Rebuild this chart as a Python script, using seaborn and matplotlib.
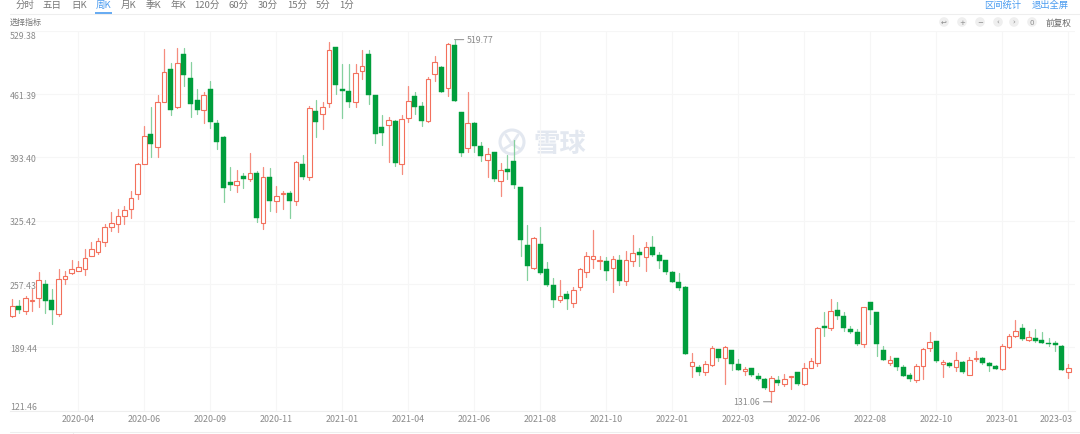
import numpy as np
import pandas as pd
import matplotlib
matplotlib.use("Agg")
import matplotlib.pyplot as plt
from matplotlib.patches import Circle
from matplotlib.transforms import ScaledTranslation
import seaborn as sns

# weekly candles, one row of four lists per quantity
opens = [223.4,234.1,228.8,239.2,242.1,257.5,240.3,225.3,262.8,268.9,271.7,273.6,287.8,291.5,302.9,319.0,321.9,330.1,338.3,354.1,
386.3,418.5,404.8,453.1,488.3,447.1,504.4,478.3,455.3,443.9,466.8,430.3,414.9,367.3,364.0,373.1,369.8,376.6,323.3,372.0,
346.2,354.4,354.8,346.9,386.3,372.7,443.5,440.3,451.4,511.6,466.8,465.0,453.1,486.4,504.4,460.7,425.7,428.1,432.8,386.3,
435.3,459.6,448.2,432.1,482.9,490.1,467.5,514.3,441.8,403.4,430.3,405.3,390.6,399.5,367.7,380.6,389.8,361.9,299.3,275.0,
300.7,273.6,256.4,240.3,246.4,236.7,253.9,270.7,284.6,281.8,282.1,275.0,282.9,261.0,281.8,291.5,286.8,297.2,288.9,282.9,
270.3,259.3,254.6,169.8,168.7,162.7,170.5,187.4,178.0,186.6,171.5,163.7,166.9,159.0,155.8,142.9,154.4,150.4,157.3,162.7,
149.8,167.6,172.3,212.4,209.9,229.9,222.8,209.1,206.3,193.0,237.8,227.1,186.6,173.0,177.7,168.3,159.7,154.1,169.1,189.1,
196.0,171.2,172.7,168.7,174.0,160.1,176.6,178.0,172.7,169.8,165.9,189.8,201.3,210.2,197.0,199.2,197.0,194.4,193.8,190.6,163.0]
highs = [241.4,240.6,244.3,252.1,270.0,261.7,252.1,273.6,271.7,283.2,282.5,295.0,302.9,306.8,321.9,334.4,338.0,341.5,357.6,387.0,
427.4,447.1,460.3,509.7,494.7,510.8,510.8,495.4,466.8,463.2,475.7,433.8,416.0,382.7,380.2,376.6,397.8,378.4,383.4,382.0,
362.3,357.6,357.0,389.2,396.3,448.2,455.0,452.5,517.6,512.2,493.6,493.6,493.6,509.0,508.7,460.7,438.9,436.4,433.8,438.9,
469.7,463.2,452.5,479.3,501.9,491.2,515.8,519.77,441.8,463.2,431.0,410.2,403.1,399.5,387.0,395.9,412.0,361.9,321.1,307.6,
318.3,280.7,263.6,262.1,250.3,253.9,274.3,292.1,315.7,287.2,286.1,287.8,288.6,293.2,310.0,296.1,302.9,308.7,291.5,283.2,
271.7,268.9,255.6,183.4,170.5,175.1,190.6,187.7,190.6,186.6,176.9,168.7,167.3,161.9,156.2,158.4,159.0,160.8,158.4,163.3,
172.3,177.7,211.0,227.1,241.4,238.4,227.7,212.0,209.1,232.4,238.1,227.7,190.6,179.8,178.0,170.5,161.9,171.3,188.4,205.6,
196.6,176.2,173.4,184.1,174.8,179.4,185.9,178.8,173.4,170.8,193.0,203.8,218.8,214.5,207.3,209.1,206.3,199.2,196.6,192.0,171.3]
lows = [222.0,226.3,225.3,228.8,232.8,226.3,214.5,223.4,257.5,268.2,271.1,267.4,287.2,289.7,298.6,314.7,313.0,321.9,328.3,348.7,
386.3,393.5,394.1,452.5,438.9,446.1,469.7,436.4,439.9,429.9,424.6,402.4,345.2,358.7,355.9,360.5,367.7,323.7,316.5,336.1,
334.4,338.0,328.3,342.6,370.2,369.1,414.9,423.8,447.8,461.4,435.6,447.5,447.8,477.5,450.7,408.8,407.0,388.1,383.8,375.5,
431.7,439.9,427.4,431.0,475.7,463.2,459.6,454.2,394.5,398.8,399.5,389.8,372.0,368.3,351.6,370.2,360.5,287.2,262.1,273.6,
268.2,255.6,233.1,238.4,230.6,232.4,251.0,264.6,274.3,273.6,262.1,249.2,256.7,256.7,276.4,277.1,271.7,287.8,274.6,268.2,
259.3,251.0,182.0,158.0,160.1,160.1,169.8,175.1,150.1,165.1,165.1,160.1,159.0,154.4,144.7,131.06,149.4,147.6,144.7,149.0,
149.0,167.0,169.8,201.9,208.4,219.9,207.0,204.9,192.3,189.5,214.5,180.5,175.5,170.8,165.1,158.7,153.0,152.6,155.5,185.9,
173.7,157.3,168.0,164.4,161.9,159.7,174.5,171.5,163.7,165.9,165.4,188.7,200.9,197.0,196.6,194.9,193.8,191.2,185.9,164.8,156.5]
closes = [234.1,229.9,242.4,240.3,261.7,239.5,229.9,262.8,266.4,273.2,275.4,285.0,295.0,303.3,318.3,322.6,330.1,337.2,349.8,386.3,
416.0,407.7,452.5,484.7,444.6,494.4,482.1,450.4,444.2,460.3,431.7,409.6,360.2,364.0,367.7,370.2,376.6,328.3,372.7,346.2,
352.2,355.5,346.9,388.7,372.7,446.4,431.7,447.1,508.7,471.4,464.6,452.5,484.0,491.8,460.7,418.5,419.6,433.5,387.3,434.6,
454.2,447.8,432.8,477.5,495.4,463.9,515.1,454.2,398.1,429.9,405.3,394.5,397.0,370.2,379.8,378.0,364.0,304.7,277.1,306.8,
269.3,256.4,240.3,244.3,241.0,250.7,273.6,287.2,287.2,282.9,271.7,284.3,260.4,282.9,290.7,288.6,297.2,288.6,281.8,270.0,
259.9,252.8,182.6,173.4,162.7,171.9,188.4,178.0,189.5,171.2,165.4,166.5,159.7,155.8,145.8,156.2,151.2,155.2,158.4,150.4,
167.6,175.1,210.2,210.2,228.1,222.8,209.9,205.6,193.0,232.4,229.5,193.0,176.2,175.9,168.3,159.0,155.8,169.8,187.7,194.9,
174.5,174.0,169.1,175.9,163.0,175.9,177.7,172.3,169.8,166.5,190.6,201.3,207.3,198.4,200.5,196.3,194.4,192.7,192.0,165.4,166.9]

price_ticks = [529.38, 461.39, 393.40, 325.42, 257.43, 189.44, 121.46]
price_labels = ["529.38", "461.39", "393.40", "325.42", "257.43", "189.44", "121.46"]
date_labels = ["2020-04", "2020-06", "2020-09", "2020-11", "2021-01", "2021-04", "2021-06", "2021-08",
               "2021-10", "2022-01", "2022-03", "2022-06", "2022-08", "2022-10", "2023-01", "2023-03"]
period_tabs = ["分时", "五日", "日K", "周K", "月K", "季K", "年K", "120分", "60分", "30分", "15分", "5分", "1分"]

sns.set_theme(style="white")
plt.rcParams["font.family"] = ["Noto Sans CJK SC", "DejaVu Sans"]

RED, WICK_RED, GREEN, WICK_GREEN = "#f3705c", "#f58c7e", "#009e3c", "#86d09f"
BLUE, GREY, GRID = "#4b9cf0", "#8a8a8a", "#f6f6f6"

W, H = 1080, 435
fig = plt.figure(figsize=(W / 100, H / 100), dpi=100, facecolor="white")

# page chrome in pixel coordinates, underneath the chart
page = fig.add_axes([0, 0, 1, 1], zorder=0)
page.set_xlim(0, W)
page.set_ylim(H, 0)
page.axis("off")

tab_x = [25, 52, 79, 103, 128, 153, 178, 207, 239, 268, 297, 323, 347]
for name, x in zip(period_tabs, tab_x):
    page.text(x, 5.3, name, ha="center", va="center", fontsize=6.8,
              color=BLUE if name == "周K" else "#777777")
page.plot([10, 1080], [15, 15], color="#eeeeee", lw=0.8)
page.plot([95, 112], [14.3, 14.3], color=BLUE, lw=1.2, solid_capstyle="butt")
page.text(1003, 5.3, "区间统计", ha="center", va="center", fontsize=6.7, color=BLUE)
page.text(1050, 5.3, "退出全屏", ha="center", va="center", fontsize=6.7, color=BLUE)
page.text(10, 22, "选择指标", ha="left", va="center", fontsize=5.8, color="#777777")
page.text(1058, 23.3, "前复权", ha="center", va="center", fontsize=6.2, color="#666666")
icons = ["↩", "+", "−", "‹", "›", "0"]
for glyph, x in zip(icons, [944, 962, 980, 998, 1014, 1032]):
    page.add_patch(Circle((x, 23), 4.8, facecolor="#efefef", edgecolor="none"))
    page.text(x, 22.8, glyph, ha="center", va="center", fontsize=5, color="#8a8a8a",
              family=["DejaVu Sans"])
page.plot([10, 1080], [432.6, 432.6], color="#eeeeee", lw=0.8)
page.plot([73, 73], [432.6, 435], color="#eeeeee", lw=0.8)

# watermark
MARK = "#e3e8f0"
page.add_patch(Circle((512, 143), 12, facecolor="none", edgecolor=MARK, lw=2.2))
page.plot([506, 512, 518], [136, 145, 136], color=MARK, lw=2)
page.plot([512, 504], [145, 150], color=MARK, lw=2)
page.plot([512, 520], [145, 150], color=MARK, lw=2)
page.text(560, 145, "雪球", ha="center", va="center", fontsize=19, color=MARK, fontweight="bold")

# chart
left, right, top, bottom = 10, 1075, 31.7, 411.7
ax = fig.add_axes([left / W, 1 - bottom / H, (right - left) / W, (bottom - top) / H], zorder=1)
ax.patch.set_alpha(0)

n = len(opens)
idx = np.arange(n)
o, h, l, c = map(np.array, (opens, highs, lows, closes))
up = c >= o
df = pd.DataFrame({"i": idx, "open": o, "high": h, "low": l, "close": c,
                   "dir": np.where(up, "up", "down")})
wicks = df.melt(id_vars=["i", "dir"], value_vars=["high", "low"], value_name="price")
sns.lineplot(data=wicks, x="i", y="price", hue="dir", units="i", estimator=None, sort=False,
             palette={"up": WICK_RED, "down": WICK_GREEN}, hue_order=["up", "down"],
             linewidth=0.9, legend=False, ax=ax, zorder=2)

body_bottom = np.minimum(o, c)
body_height = np.maximum(np.abs(c - o), 0.8)
ax.bar(idx[up], body_height[up], bottom=body_bottom[up], width=0.68,
       facecolor="white", edgecolor=RED, linewidth=0.8, zorder=3)
ax.bar(idx[~up], body_height[~up], bottom=body_bottom[~up], width=0.76,
       facecolor=GREEN, edgecolor=GREEN, linewidth=0.3, zorder=3)

ax.set_xlim((left - 12.3) / 6.6, (right - 12.3) / 6.6)
ax.set_ylim(price_ticks[-1], price_ticks[0])
ax.set_xlabel("")
ax.set_ylabel("")
ax.set_xticks(np.arange(1, len(date_labels) + 1) * 10)
ax.set_xticklabels(date_labels)
ax.set_yticks(price_ticks)
ax.set_yticklabels(price_labels)
ax.tick_params(axis="x", length=0, pad=2.2, labelsize=6.4, labelcolor=GREY)
ax.tick_params(axis="y", length=0, pad=0, labelsize=6.3, labelcolor=GREY)
for t in ax.get_yticklabels():
    t.set_ha("left")
ax.get_yticklabels()[0].set_va("top")
ax.get_yticklabels()[-1].set_va("bottom")
last = ax.get_xticklabels()[-1]
last.set_ha("right")
last.set_transform(last.get_transform() + ScaledTranslation(4.5 / 100, 0, fig.dpi_scale_trans))

ax.grid(True, color=GRID, linewidth=0.8)
ax.set_axisbelow(True)
for side in ("top", "left", "right"):
    ax.spines[side].set_visible(False)
ax.spines["bottom"].set_color("#eeeeee")
ax.spines["bottom"].set_linewidth(0.8)

hi_i, lo_i = int(np.argmax(h)), int(np.argmin(l))
for i, val, dx, ha in ((hi_i, h[hi_i], 9, "left"), (lo_i, l[lo_i], -8, "right")):
    ax.annotate(f"{val:.2f}", xy=(i, val), xytext=(dx, 0), textcoords="offset points",
                ha=ha, va="center", fontsize=6.3, color=GREY,
                arrowprops=dict(arrowstyle="-", color=GREY, lw=0.7, shrinkA=0, shrinkB=0))

fig.savefig("out.png", dpi=100)
